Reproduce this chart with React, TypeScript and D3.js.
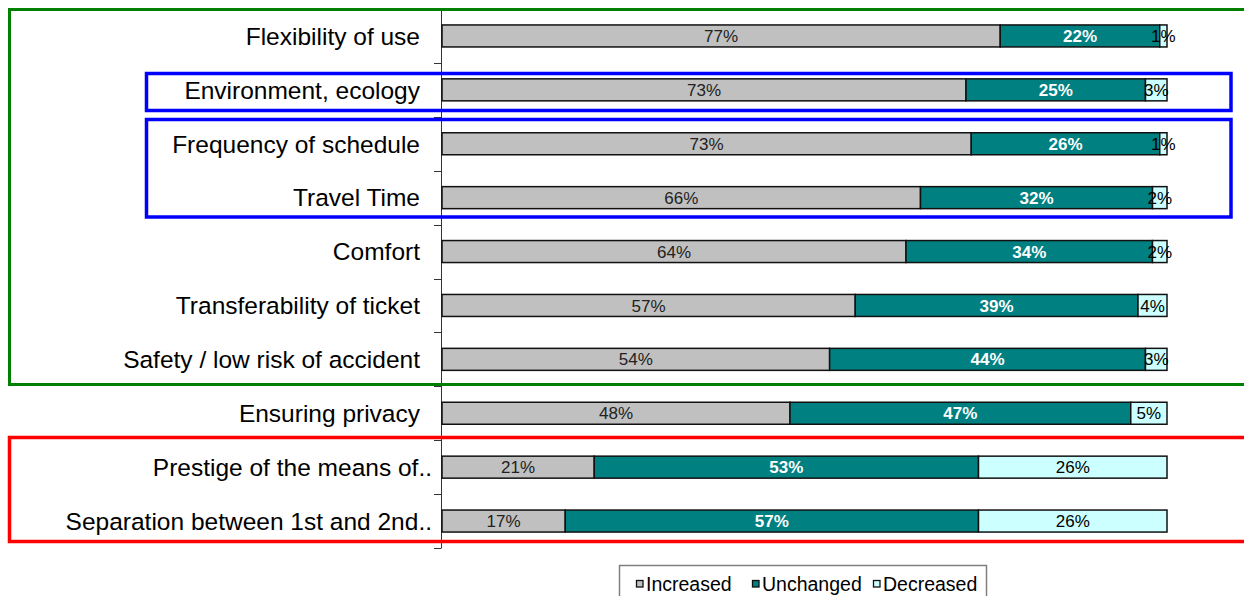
import React from "react";
import * as d3 from "d3";

const categories = [
  "Flexibility of use",
  "Environment, ecology",
  "Frequency of schedule",
  "Travel Time",
  "Comfort",
  "Transferability of ticket",
  "Safety / low risk of accident",
  "Ensuring privacy",
  "Prestige of the means of..",
  "Separation between 1st and 2nd..",
];
const seriesNames = ["Increased", "Unchanged", "Decreased"];
const increased = [77, 73, 73, 66, 64, 57, 54, 48, 21, 17];
const unchanged = [22, 25, 26, 32, 34, 39, 44, 47, 53, 57];
const decreased = [1, 3, 1, 2, 2, 4, 3, 5, 26, 26];

const colors = ["#c0c0c0", "#008080", "#ccffff"];
const labelColors = ["#222222", "#ffffff", "#000000"];
const labelWeights = [400, 700, 400];

const W = 1244;
const H = 596;
const FONT = "Arial, 'Liberation Sans', sans-serif";

export default function App() {
  const y = d3.scaleBand<string>().domain(categories).range([9, 548]).padding(0);
  const x = d3.scaleLinear().domain([0, 1]).range([442, 1167]);
  const barH = 22;
  const series = [increased, unchanged, decreased];

  const rows = categories.map((c, i) => {
    const vals = series.map((s) => s[i]);
    const total = d3.sum(vals);
    let acc = 0;
    const segs = vals.map((v, k) => {
      const x0 = acc / total;
      acc += v;
      const x1 = acc / total;
      return { v, k, x0, x1 };
    });
    return { c, segs };
  });

  const legendX = [636, 752, 873];

  return (
    <svg
      width={W}
      height={H}
      style={{ position: "absolute", left: 0, top: 0, background: "#fff" }}
      fontFamily={FONT}
    >
      <rect x={0} y={0} width={W} height={H} fill="#fff" />
      {/* axis */}
      <line x1={441.5} x2={441.5} y1={9} y2={548} stroke="#333" strokeWidth={1} />
      {d3.range(categories.length + 1).map((i) => {
        const yy = Math.round(9 + i * y.step()) + 0.5;
        return <line key={i} x1={434} x2={441.5} y1={yy} y2={yy} stroke="#333" strokeWidth={1} />;
      })}
      {/* category labels */}
      {rows.map((r) => {
        const cy = (y(r.c) as number) + y.bandwidth() / 2;
        const ax = r.c.endsWith("..") ? 432 : 420;
        return (
          <text key={r.c} x={ax} y={cy} dy="0.36em" textAnchor="end" fontSize={24.5} fill="#000">
            {r.c}
          </text>
        );
      })}
      {/* bars */}
      {rows.map((r) => {
        const cy = (y(r.c) as number) + y.bandwidth() / 2;
        return (
          <g key={r.c}>
            {r.segs.map((s) => (
              <rect
                key={s.k}
                x={x(s.x0)}
                y={cy - barH / 2}
                width={x(s.x1) - x(s.x0)}
                height={barH}
                fill={colors[s.k]}
                stroke="#111"
                strokeWidth={1.5}
              />
            ))}
            {r.segs.map((s) => (
              <text
                key={"t" + s.k}
                x={(x(s.x0) + x(s.x1)) / 2}
                y={cy}
                dy="0.36em"
                textAnchor="middle"
                fontSize={17}
                fontWeight={labelWeights[s.k]}
                fill={labelColors[s.k]}
              >
                {s.v + "%"}
              </text>
            ))}
          </g>
        );
      })}
      {/* highlight boxes */}
      <rect x={9.5} y={9.5} width={1250} height={375} fill="none" stroke="#008000" strokeWidth={3} />
      <rect x={146.5} y={73.5} width={1084.5} height={37} fill="none" stroke="#0000ff" strokeWidth={3.5} />
      <rect x={146.5} y={119.5} width={1084.5} height={97.5} fill="none" stroke="#0000ff" strokeWidth={3.5} />
      <rect x={9.5} y={437.5} width={1250} height={104} fill="none" stroke="#ff0000" strokeWidth={3.5} />
      {/* legend */}
      <rect x={619.5} y={565.5} width={367} height={40} fill="#fff" stroke="#808080" strokeWidth={1.5} />
      {seriesNames.map((n, k) => (
        <g key={n}>
          <rect x={legendX[k] + 0.5} y={580.5} width={6.5} height={6.5} fill={colors[k]} stroke="#111" strokeWidth={1.3} />
          <text x={legendX[k] + 10} y={590.5} fontSize={19.5} fill="#000">
            {n}
          </text>
        </g>
      ))}
    </svg>
  );
}
